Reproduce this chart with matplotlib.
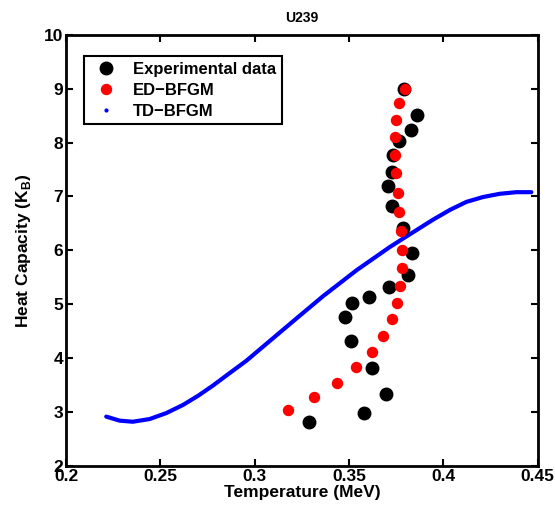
import matplotlib
matplotlib.use("Agg")
import matplotlib.pyplot as plt
from matplotlib.lines import Line2D

plt.rcParams["font.family"] = ["Liberation Sans", "DejaVu Sans"]
plt.rcParams["font.weight"] = "bold"
plt.rcParams["mathtext.fontset"] = "custom"
plt.rcParams["mathtext.bf"] = "Liberation Sans:bold"
plt.rcParams["mathtext.rm"] = "Liberation Sans:bold"

# experimental data
exp_T = [0.379, 0.386, 0.383, 0.3765, 0.3733, 0.373, 0.3708, 0.373, 0.3786, 0.3834,
         0.381, 0.3712, 0.3604, 0.3517, 0.3478, 0.3508, 0.362, 0.3696, 0.3581, 0.329]
exp_C = [9.0, 8.52, 8.23, 8.03, 7.77, 7.45, 7.2, 6.83, 6.42, 5.95,
         5.55, 5.32, 5.14, 5.02, 4.76, 4.32, 3.81, 3.34, 2.98, 2.82]

# ED-BFGM
ed_T = [0.3795, 0.3765, 0.375, 0.3745, 0.3742, 0.375, 0.3761, 0.3765, 0.3774, 0.378,
        0.378, 0.3772, 0.3756, 0.3727, 0.3678, 0.362, 0.3537, 0.3434, 0.3316, 0.3174]
ed_C = [9.0, 8.73, 8.42, 8.11, 7.77, 7.43, 7.07, 6.72, 6.36, 6.01,
        5.67, 5.33, 5.02, 4.72, 4.42, 4.11, 3.83, 3.53, 3.27, 3.03]

# TD-BFGM
td_T = [0.2213, 0.2284, 0.2354, 0.2443, 0.2531, 0.2619, 0.2699, 0.2778, 0.2866,
        0.2955, 0.3097, 0.3185, 0.3229, 0.3362, 0.3539, 0.3715, 0.38, 0.3945,
        0.4034, 0.4122, 0.421, 0.4299, 0.4387, 0.4466]
td_C = [2.915, 2.84, 2.82, 2.87, 2.98, 3.13, 3.3, 3.49, 3.72,
        3.95, 4.37, 4.63, 4.76, 5.15, 5.63, 6.06, 6.25, 6.57,
        6.75, 6.9, 6.99, 7.05, 7.08, 7.08]

fig = plt.figure(figsize=(5.55, 5.12), dpi=100)
ax = fig.add_axes([0.119, 0.09, 0.85, 0.842])

ax.plot(td_T, td_C, "-", color="blue", lw=3, solid_capstyle="round")
ax.plot(exp_T, exp_C, "o", color="black", ms=9, ls="none")
ax.plot(ed_T, ed_C, "o", color="red", ms=7.2, ls="none")

ax.set_xlim(0.2, 0.45)
ax.set_ylim(2, 10)
ax.set_xticks([0.2, 0.25, 0.3, 0.35, 0.4, 0.45])
ax.set_xticklabels(["0.2", "0.25", "0.3", "0.35", "0.4", "0.45"])
ax.set_yticks(range(2, 11))
ax.tick_params(direction="in", top=True, right=True, labelsize=12.5, width=1.5, length=5, pad=2)
for s in ax.spines.values():
    s.set_linewidth(2)

ax.set_title("U239", fontsize=10, fontweight="bold", pad=9)
ax.set_xlabel("Temperature (MeV)", fontsize=12.5, fontweight="bold", labelpad=1)
ax.set_ylabel(r"Heat Capacity (K$_\mathbf{B}$)", fontsize=12.5, fontweight="bold", labelpad=8)

handles = [Line2D([], [], marker="o", color="black", ls="none", ms=9),
           Line2D([], [], marker="o", color="red", ls="none", ms=7.2),
           Line2D([], [], marker=".", color="blue", ls="none", ms=4)]
leg = ax.legend(handles, ["Experimental data", "ED\u2212BFGM", "TD\u2212BFGM"],
                loc="upper left", bbox_to_anchor=(0.02, 0.97), fancybox=False,
                edgecolor="black", prop={"weight": "bold", "size": 12},
                handletextpad=0.6, borderpad=0.35, labelspacing=0.35, framealpha=1)
leg.get_frame().set_linewidth(1.5)

fig.savefig("out.png", dpi=100)
